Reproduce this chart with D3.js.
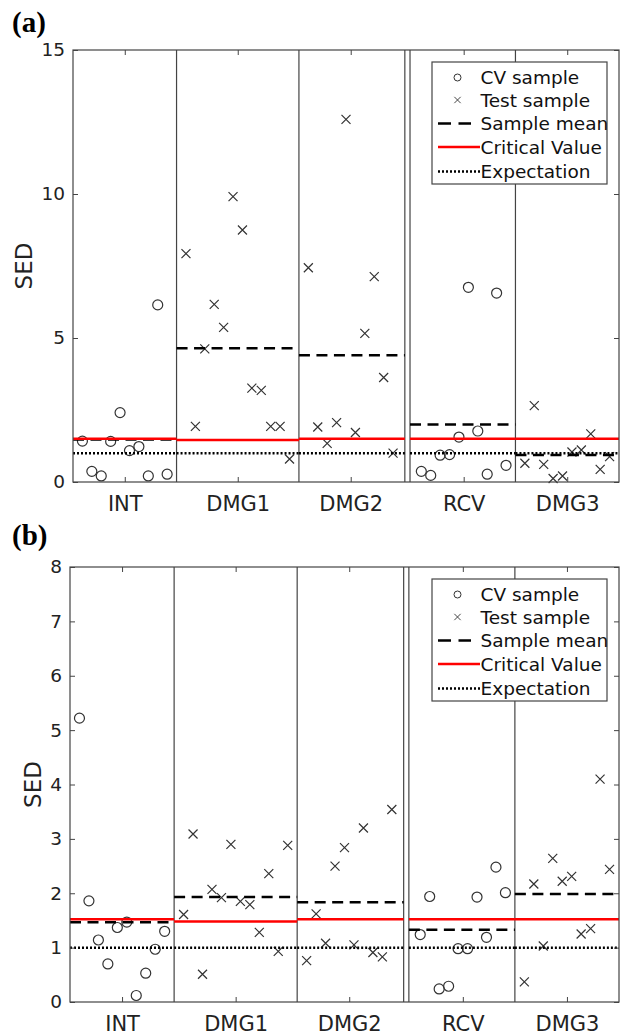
<!DOCTYPE html>
<meta charset="utf-8">
<style>
body { margin: 0; background: #fff; }
svg { display: block; }
.axis .domain { display: none; }
.axis line { stroke: #444; }
.axis text { font-family: "DejaVu Sans", sans-serif; fill: #222; }
</style>
<body>
<svg width="622" height="1035"></svg>
<script src="https://d3js.org/d3.v7.min.js"></script>
<script>
// SED per sample, two panels, five stages each

var categories = ["INT", "DMG1", "DMG2", "RCV", "DMG3"];
var kinds = ["cv", "test", "test", "cv", "test"];   // marker per stage
var firstIndex = [1, 12, 25, 37, 48];               // sample index of first point in each stage
var segLo = [0, 11, 24, 35.8, 47];                  // stage extents on the sample axis
var segHi = [11, 24, 35.25, 47, 58];
var dividers = [11, 24, 35.25, 35.8, 47];
var expectation = 1;

// panel (a)
var aINT  = [1.42, 0.37, 0.21, 1.41, 2.41, 1.09, 1.23, 0.21, 6.15, 0.27];
var aDMG1 = [7.93, 1.93, 4.62, 6.17, 5.37, 9.91, 8.75, 3.26, 3.18, 1.93, 1.93, 0.80];
var aDMG2 = [7.44, 1.91, 1.34, 2.06, 12.59, 1.72, 5.16, 7.13, 3.63, 1.00];
var aRCV  = [0.37, 0.23, 0.93, 0.95, 1.56, 6.76, 1.77, 0.27, 6.56, 0.58];
var aDMG3 = [0.65, 2.65, 0.61, 0.12, 0.21, 1.04, 1.11, 1.67, 0.44, 0.88];
var aCritical = [1.50, 1.46, 1.50, 1.50, 1.50];
var aTicks = [0, 5, 10, 15];

// panel (b)
var bINT  = [5.22, 1.86, 1.14, 0.70, 1.37, 1.47, 0.12, 0.53, 0.97, 1.30];
var bDMG1 = [1.61, 3.09, 0.51, 2.07, 1.92, 2.90, 1.85, 1.79, 1.28, 2.36, 0.93, 2.88];
var bDMG2 = [0.76, 1.62, 1.08, 2.50, 2.84, 1.05, 3.20, 0.91, 0.83, 3.54];
var bRCV  = [1.24, 1.94, 0.24, 0.29, 0.98, 0.98, 1.93, 1.19, 2.48, 2.01];
var bDMG3 = [0.37, 2.17, 1.03, 2.64, 2.22, 2.31, 1.25, 1.35, 4.10, 2.44];
var bCritical = [1.52, 1.48, 1.52, 1.52, 1.52];
var bTicks = [0, 1, 2, 3, 4, 5, 6, 7, 8];

var legendItems = ["CV sample", "Test sample", "Sample mean", "Critical Value", "Expectation"];

var svg = d3.select("svg");
var crossPath = "M-4.5,-4.5L4.5,4.5M-4.5,4.5L4.5,-4.5";

drawPanel({label: "(a)", groups: [aINT, aDMG1, aDMG2, aRCV, aDMG3], critical: aCritical,
  ticks: aTicks, left: 73, top: 50, right: 619, bottom: 482, labelY: 32, sedX: 24});
drawPanel({label: "(b)", groups: [bINT, bDMG1, bDMG2, bRCV, bDMG3], critical: bCritical,
  ticks: bTicks, left: 70, top: 567, right: 619, bottom: 1002, labelY: 545, sedX: 33});

function drawPanel(p) {
  var width = p.right - p.left,
      height = p.bottom - p.top;

  var x = d3.scaleLinear().domain([0, 58]).range([0, width]);
  var y = d3.scaleLinear().domain(d3.extent(p.ticks)).range([height, 0]);

  svg.append("text")
      .attr("x", 12)
      .attr("y", p.labelY)
      .attr("font-family", "Liberation Serif, serif")
      .attr("font-weight", "bold")
      .attr("font-size", 29)
      .text(p.label);

  var g = svg.append("g").attr("transform", "translate(" + p.left + "," + p.top + ")");

  var centers = categories.map(function(c, i) {
    return firstIndex[i] + (p.groups[i].length - 1) / 2;
  });

  // stage dividers
  g.append("g").selectAll("line")
    .data(dividers)
    .enter().append("line")
      .attr("x1", function(d) { return x(d); })
      .attr("x2", function(d) { return x(d); })
      .attr("y1", 0)
      .attr("y2", height)
      .attr("stroke", "#444")
      .attr("stroke-width", 1.2);

  // samples
  categories.forEach(function(c, i) {
    var pts = g.append("g").selectAll("g")
      .data(p.groups[i])
      .enter();
    if (kinds[i] == "cv") {
      pts.append("circle")
        .attr("cx", function(d, j) { return x(firstIndex[i] + j); })
        .attr("cy", function(d) { return y(d); })
        .attr("r", 5)
        .attr("fill", "none")
        .attr("stroke", "#333")
        .attr("stroke-width", 1.2);
    } else {
      pts.append("path")
        .attr("transform", function(d, j) { return "translate(" + x(firstIndex[i] + j) + "," + y(d) + ")"; })
        .attr("d", crossPath)
        .attr("fill", "none")
        .attr("stroke", "#333")
        .attr("stroke-width", 1.2);
    }
  });

  // expectation, mean, critical value per stage
  var segs = categories.map(function(c, i) {
    return {lo: segLo[i], hi: segHi[i], mean: d3.mean(p.groups[i]), crit: p.critical[i]};
  });

  g.append("g").selectAll("line")
    .data(segs)
    .enter().append("line")
      .attr("x1", function(d) { return x(d.lo); })
      .attr("x2", function(d) { return x(d.hi); })
      .attr("y1", y(expectation))
      .attr("y2", y(expectation))
      .attr("stroke", "#000")
      .attr("stroke-width", 2.5)
      .attr("stroke-dasharray", "2,2");

  g.append("g").selectAll("line")
    .data(segs)
    .enter().append("line")
      .attr("x1", function(d) { return x(d.lo); })
      .attr("x2", function(d) { return x(d.hi); })
      .attr("y1", function(d) { return y(d.mean); })
      .attr("y2", function(d) { return y(d.mean); })
      .attr("stroke", "#000")
      .attr("stroke-width", 2.5)
      .attr("stroke-dasharray", "11,6.5");

  g.append("g").selectAll("line")
    .data(segs)
    .enter().append("line")
      .attr("x1", function(d) { return x(d.lo); })
      .attr("x2", function(d) { return x(d.hi); })
      .attr("y1", function(d) { return y(d.crit); })
      .attr("y2", function(d) { return y(d.crit); })
      .attr("stroke", "#ff0000")
      .attr("stroke-width", 2.5);

  // axes
  g.append("g")
      .attr("class", "axis")
      .call(d3.axisLeft(y).tickValues(p.ticks).tickSizeInner(-5).tickSizeOuter(0).tickPadding(8))
      .attr("font-size", 18.5);

  g.append("g")
      .attr("class", "axis")
      .attr("transform", "translate(" + width + ",0)")
      .call(d3.axisRight(y).tickValues(p.ticks).tickSizeInner(-5).tickSizeOuter(0).tickFormat(""));

  g.append("g")
      .attr("class", "axis")
      .call(d3.axisTop(x).tickValues(centers).tickSizeInner(-5).tickSizeOuter(0).tickFormat(""));

  g.append("g")
      .attr("class", "axis")
      .attr("transform", "translate(0," + height + ")")
      .call(d3.axisBottom(x).tickValues(centers).tickSizeInner(-5).tickSizeOuter(0).tickPadding(14)
        .tickFormat(function(d, i) { return categories[i]; }))
      .attr("font-size", 21);

  g.append("rect")
      .attr("width", width)
      .attr("height", height)
      .attr("fill", "none")
      .attr("stroke", "#444")
      .attr("stroke-width", 1.2);

  svg.append("text")
      .attr("transform", "translate(" + p.sedX + "," + (p.top + height / 2) + ") rotate(-90)")
      .attr("text-anchor", "middle")
      .attr("dy", "0.35em")
      .attr("font-family", "DejaVu Sans, sans-serif")
      .attr("font-size", 23)
      .attr("fill", "#222")
      .text("SED");

  // legend
  var lg = g.append("g")
      .attr("transform", "translate(" + (width - 187) + ",12)");

  lg.append("rect")
      .attr("width", 175)
      .attr("height", 122)
      .attr("fill", "#fff")
      .attr("stroke", "#444")
      .attr("stroke-width", 1.2);

  var rowY = [15.5, 38, 61.5, 85, 109.5];

  var rows = lg.selectAll("g.row")
    .data(legendItems)
    .enter().append("g")
      .attr("class", "row")
      .attr("transform", function(d, i) { return "translate(0," + rowY[i] + ")"; });

  rows.append("text")
      .attr("x", 48.5)
      .attr("dy", "0.36em")
      .attr("font-family", "DejaVu Sans, sans-serif")
      .attr("font-size", 18.5)
      .attr("fill", "#111")
      .text(function(d) { return d; });

  rows.filter(function(d, i) { return i == 0; }).append("circle")
      .attr("cx", 25.5).attr("r", 3.5)
      .attr("fill", "none").attr("stroke", "#333").attr("stroke-width", 1);

  rows.filter(function(d, i) { return i == 1; }).append("path")
      .attr("transform", "translate(25.5,0) scale(0.7)")
      .attr("d", crossPath)
      .attr("fill", "none").attr("stroke", "#333").attr("stroke-width", 1.3);

  rows.filter(function(d, i) { return i == 2; }).append("line")
      .attr("x1", 6).attr("x2", 39)
      .attr("stroke", "#000").attr("stroke-width", 2.5).attr("stroke-dasharray", "13,7.5");

  rows.filter(function(d, i) { return i == 3; }).append("line")
      .attr("x1", 6).attr("x2", 48)
      .attr("stroke", "#ff0000").attr("stroke-width", 2.5);

  rows.filter(function(d, i) { return i == 4; }).append("line")
      .attr("x1", 6).attr("x2", 48)
      .attr("stroke", "#000").attr("stroke-width", 2.5).attr("stroke-dasharray", "2,2");
}
</script>
</body>
